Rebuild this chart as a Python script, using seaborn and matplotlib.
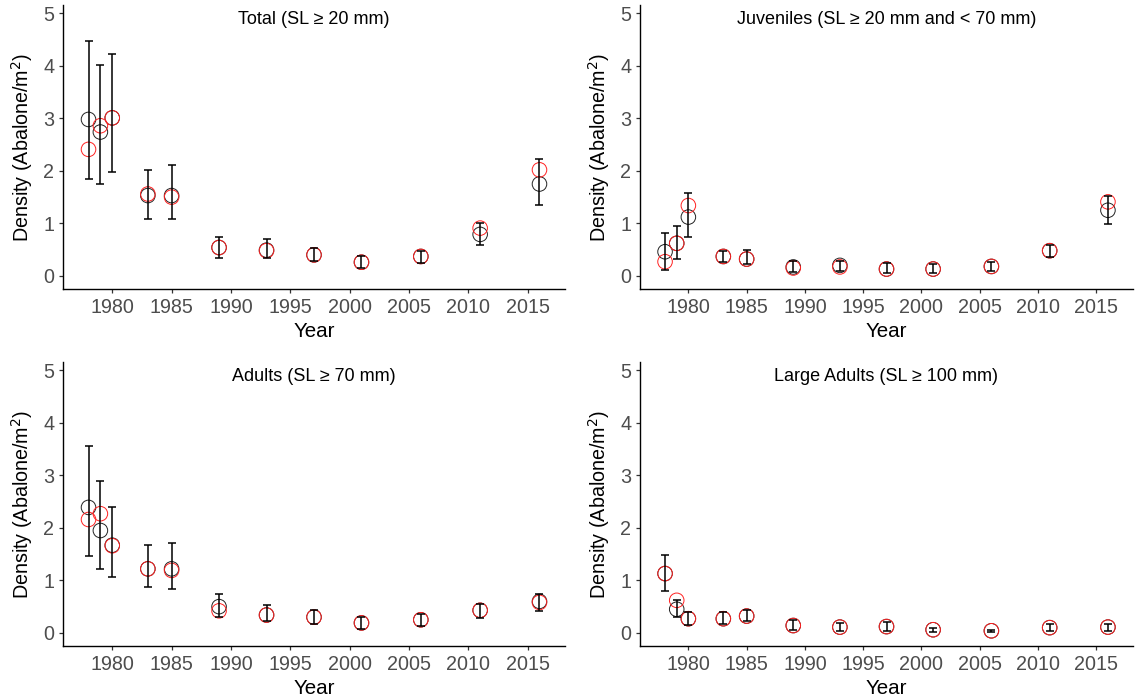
import matplotlib
matplotlib.use("Agg")
import matplotlib.pyplot as plt
import numpy as np
import pandas as pd
import seaborn as sns

sns.set_theme(style="ticks")
plt.rcParams["font.family"] = ["Liberation Sans", "DejaVu Sans"]

years = [1978, 1979, 1980, 1983, 1985, 1989, 1993, 1997, 2001, 2006, 2011, 2016]

# Total (SL >= 20 mm)
total_obs = [2.98, 2.74, 3.01, 1.53, 1.53, 0.54, 0.49, 0.40, 0.26, 0.37, 0.79, 1.75]
total_lo = [1.84, 1.75, 1.98, 1.09, 1.08, 0.34, 0.35, 0.29, 0.15, 0.24, 0.59, 1.35]
total_hi = [4.48, 4.01, 4.23, 2.01, 2.12, 0.74, 0.70, 0.54, 0.37, 0.48, 1.00, 2.22]
total_est = [2.41, 2.86, 3.01, 1.56, 1.50, 0.54, 0.48, 0.40, 0.26, 0.37, 0.91, 2.02]

# Juveniles (SL >= 20 mm and < 70 mm)
juv_obs = [0.46, 0.62, 1.12, 0.37, 0.32, 0.17, 0.20, 0.13, 0.13, 0.18, 0.48, 1.25]
juv_lo = [0.11, 0.33, 0.75, 0.26, 0.22, 0.07, 0.10, 0.05, 0.05, 0.10, 0.36, 0.99]
juv_hi = [0.81, 0.95, 1.58, 0.48, 0.49, 0.29, 0.29, 0.24, 0.23, 0.27, 0.59, 1.53]
juv_est = [0.27, 0.62, 1.34, 0.37, 0.32, 0.15, 0.17, 0.13, 0.13, 0.18, 0.48, 1.41]

# Adults (SL >= 70 mm)
adult_obs = [2.39, 1.95, 1.67, 1.22, 1.22, 0.50, 0.34, 0.30, 0.19, 0.25, 0.43, 0.60]
adult_lo = [1.46, 1.22, 1.06, 0.87, 0.84, 0.31, 0.23, 0.17, 0.08, 0.14, 0.29, 0.42]
adult_hi = [3.56, 2.89, 2.40, 1.67, 1.71, 0.74, 0.53, 0.43, 0.30, 0.36, 0.55, 0.74]
adult_est = [2.16, 2.27, 1.66, 1.22, 1.19, 0.42, 0.34, 0.30, 0.19, 0.25, 0.43, 0.58]

# Large adults (SL >= 100 mm)
large_obs = [1.13, 0.45, 0.27, 0.27, 0.32, 0.14, 0.11, 0.12, 0.06, 0.04, 0.10, 0.11]
large_lo = [0.80, 0.31, 0.15, 0.17, 0.22, 0.06, 0.04, 0.04, 0.01, 0.01, 0.03, 0.04]
large_hi = [1.49, 0.63, 0.39, 0.39, 0.44, 0.25, 0.18, 0.20, 0.10, 0.06, 0.16, 0.17]
large_est = [1.13, 0.62, 0.27, 0.27, 0.32, 0.14, 0.11, 0.12, 0.06, 0.04, 0.10, 0.11]

panels = [
    ("Total (SL \u2265 20 mm)", total_obs, total_lo, total_hi, total_est),
    ("Juveniles (SL \u2265 20 mm and < 70 mm)", juv_obs, juv_lo, juv_hi, juv_est),
    ("Adults (SL \u2265 70 mm)", adult_obs, adult_lo, adult_hi, adult_est),
    ("Large Adults (SL \u2265 100 mm)", large_obs, large_lo, large_hi, large_est),
]

W, H = 1135, 698
fig = plt.figure(figsize=(W / 100, H / 100), dpi=100)

# panel boxes in pixels: left, right, top, bottom
boxes = [
    (63, 565, 5, 289),
    (640, 1133, 5, 289),
    (63, 565, 362, 646),
    (640, 1133, 362, 646),
]

tick_col = "#4D4D4D"

for (title, obs, lo, hi, est), (l, r, t, b) in zip(panels, boxes):
    ax = fig.add_axes([l / W, 1 - b / H, (r - l) / W, (b - t) / H])
    df = pd.DataFrame({
        "Year": years * 2,
        "Density": list(obs) + list(est),
        "series": ["observed"] * len(years) + ["estimate"] * len(years),
    })
    obs_a = np.array(obs)
    err = np.vstack([obs_a - np.array(lo), np.array(hi) - obs_a])

    sns.scatterplot(data=df, x="Year", y="Density", hue="series",
                    palette={"observed": "black", "estimate": "red"},
                    marker="o", s=110, facecolors="none", linewidth=0.7,
                    legend=False, ax=ax, zorder=3)
    # open circles: seaborn fills markers, so recolour edges by series
    coll = ax.collections[-1]
    cols = ["#222222"] * len(years) + ["#FF2020"] * len(years)
    coll.set_edgecolors(cols)
    coll.set_facecolors("none")

    ax.errorbar(years, obs, yerr=err, fmt="none", ecolor="black",
                elinewidth=1.1, capsize=3, capthick=1.1, zorder=4)

    ax.set_xlim(1975.85, 2018.15)
    ax.set_ylim(-0.25, 5.16)
    ax.set_xticks([1980, 1985, 1990, 1995, 2000, 2005, 2010, 2015])
    ax.set_yticks([0, 1, 2, 3, 4, 5])
    for s in ["top", "right"]:
        ax.spines[s].set_visible(False)
    for s in ["left", "bottom"]:
        ax.spines[s].set_linewidth(1.0)
        ax.spines[s].set_color("black")
    ax.tick_params(axis="both", length=3.2, width=0.9, color="#333333",
                   labelsize=14.2, labelcolor=tick_col, pad=3)
    ax.set_xlabel("Year", fontsize=14.8, color="black", labelpad=4)
    ax.set_ylabel("Density (Abalone/m$^2$)", fontsize=14.2, color="black",
                  labelpad=6)
    ax.text(0.5, 4.88, title, transform=ax.get_yaxis_transform(),
            ha="center", va="center", fontsize=13, color="black")
    ax.set_facecolor("white")

fig.savefig("out.png", dpi=100, facecolor="white")
